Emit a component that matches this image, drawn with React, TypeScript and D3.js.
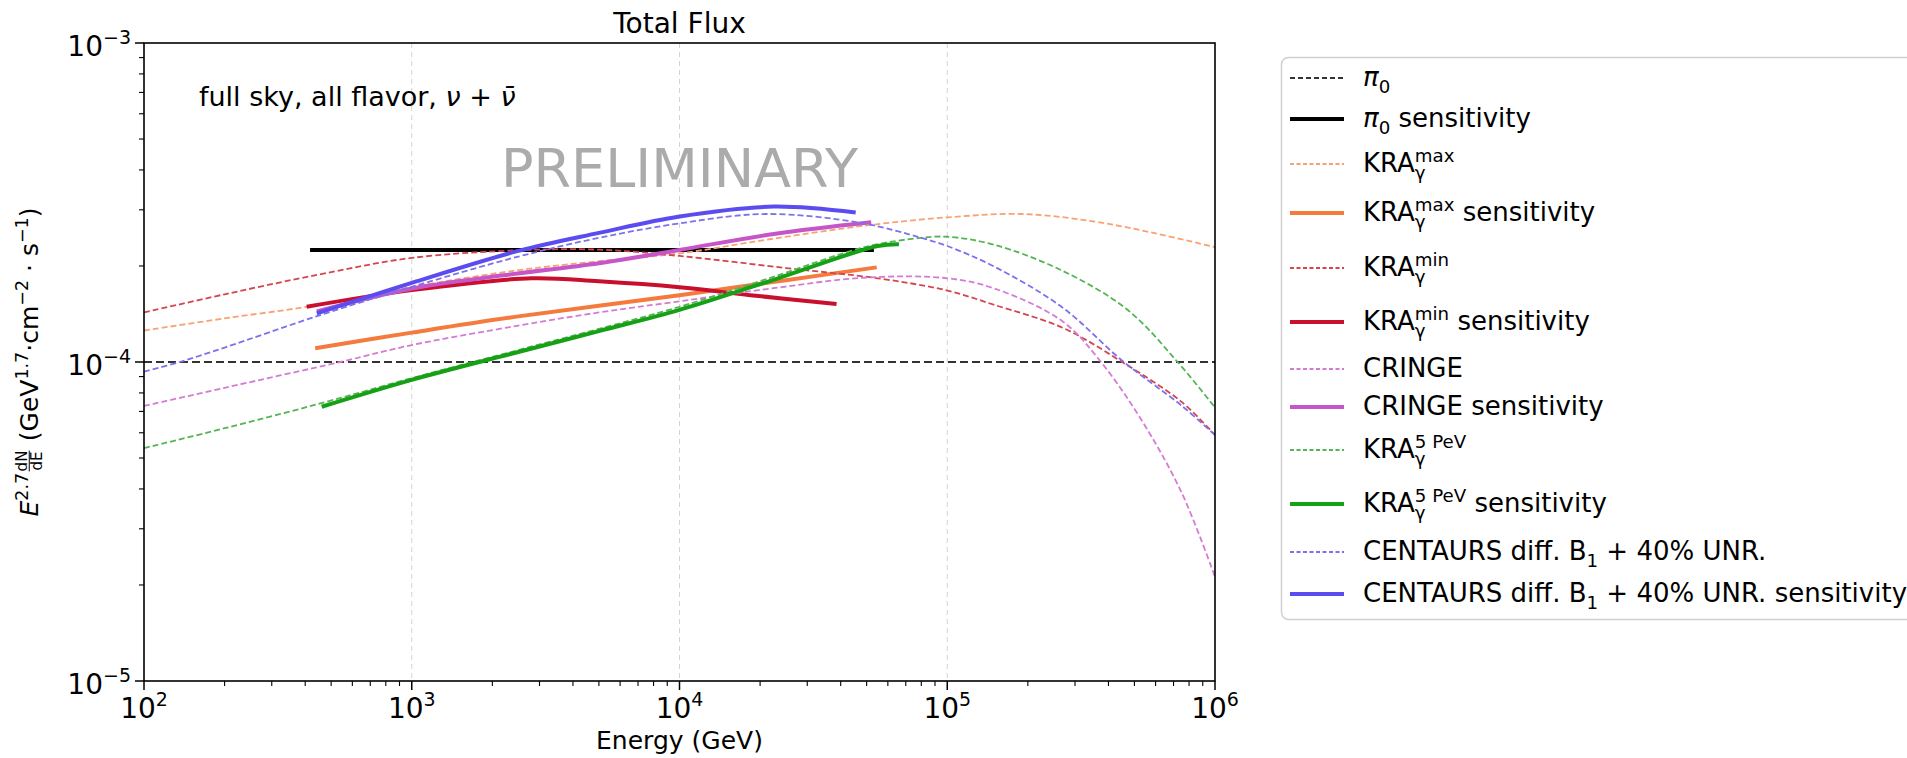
import * as d3 from "d3";
import { useEffect } from "react";

// ---- data ----
const pionEnergy = [1e2, 1e6];
const pionFlux = [1e-4, 1e-4];
const pionSensEnergy = [417, 53200];
const pionSensFlux = [2.245e-4, 2.245e-4];

const kraMaxEnergy = [1e2, 2e2, 4.5e2, 1e3, 2.5e3, 5e3, 1e4, 2.2e4, 5e4, 1e5, 1.9e5, 3.5e5, 6e5, 1e6];
const kraMaxFlux = [1.255e-4, 1.37e-4, 1.51e-4, 1.72e-4, 1.94e-4, 2.07e-4, 2.19e-4, 2.43e-4, 2.68e-4, 2.84e-4, 2.91e-4, 2.76e-4, 2.53e-4, 2.29e-4];
const kraMaxSensEnergy = [436, 1e3, 2.5e3, 1e4, 2.5e4, 5.45e4];
const kraMaxSensFlux = [1.104e-4, 1.236e-4, 1.39e-4, 1.62e-4, 1.805e-4, 1.98e-4];

const kraMinEnergy = [1e2, 2e2, 4.5e2, 1e3, 2.5e3, 5e3, 1e4, 2.5e4, 5.5e4, 1e5, 1.5e5, 2.7e5, 4.5e5, 7.5e5, 1e6];
const kraMinFlux = [1.43e-4, 1.63e-4, 1.88e-4, 2.12e-4, 2.24e-4, 2.25e-4, 2.15e-4, 1.97e-4, 1.83e-4, 1.675e-4, 1.51e-4, 1.28e-4, 1.0e-4, 7.5e-5, 5.9e-5];
const kraMinSensEnergy = [405, 1e3, 2.8e3, 5e3, 1e4, 1.84e4, 3.86e4];
const kraMinSensFlux = [1.49e-4, 1.68e-4, 1.83e-4, 1.79e-4, 1.715e-4, 1.62e-4, 1.52e-4];

const cringeEnergy = [1e2, 2e2, 5.4e2, 1e3, 2.5e3, 5e3, 1e4, 2.2e4, 5e4, 1e5, 1.5e5, 2.7e5, 3.75e5, 5.3e5, 7.5e5, 1e6];
const cringeFlux = [7.28e-5, 8.3e-5, 1.0e-4, 1.13e-4, 1.3e-4, 1.43e-4, 1.55e-4, 1.7e-4, 1.84e-4, 1.83e-4, 1.7e-4, 1.34e-4, 1.0e-4, 6.6e-5, 3.9e-5, 2.12e-5];
const cringeSensEnergy = [442, 1e3, 2.2e3, 5e3, 1e4, 2.25e4, 5.2e4];
const cringeSensFlux = [1.44e-4, 1.7e-4, 1.87e-4, 2.04e-4, 2.245e-4, 2.52e-4, 2.74e-4];

const kra5Energy = [1e2, 2e2, 4.6e2, 1e3, 2.5e3, 5e3, 1e4, 2.2e4, 5e4, 8e4, 1e5, 1.5e5, 2.7e5, 4.7e5, 7.25e5, 1e6];
const kra5Flux = [5.37e-5, 6.2e-5, 7.43e-5, 8.9e-5, 1.09e-4, 1.27e-4, 1.49e-4, 1.84e-4, 2.3e-4, 2.45e-4, 2.47e-4, 2.33e-4, 1.93e-4, 1.46e-4, 1.0e-4, 7.2e-5];
const kra5SensEnergy = [461, 1e3, 2.5e3, 5e3, 1e4, 2.2e4, 5.5e4, 6.6e4];
const kra5SensFlux = [7.24e-5, 8.79e-5, 1.075e-4, 1.25e-4, 1.457e-4, 1.8e-4, 2.31e-4, 2.34e-4];

const centaursEnergy = [1e2, 1.36e2, 2e2, 4.4e2, 1e3, 2.5e3, 5e3, 1e4, 2.1e4, 4.75e4, 8e4, 1e5, 1.5e5, 2.7e5, 4.5e5, 7.5e5, 1e6];
const centaursFlux = [9.33e-5, 1e-4, 1.11e-4, 1.39e-4, 1.72e-4, 2.14e-4, 2.45e-4, 2.72e-4, 2.91e-4, 2.73e-4, 2.45e-4, 2.31e-4, 1.99e-4, 1.48e-4, 1.01e-4, 7.3e-5, 5.9e-5];
const centaursSensEnergy = [442, 1e3, 2.5e3, 5e3, 1e4, 2.25e4, 4.55e4];
const centaursSensFlux = [1.42e-4, 1.77e-4, 2.23e-4, 2.54e-4, 2.86e-4, 3.07e-4, 2.94e-4];

const xDomain = [1e2, 1e6];
const yDomain = [1e-5, 1e-3];

// ---- layout ----
const W = 1907;
const H = 758;
const plot = { left: 144, right: 1215, top: 43, bottom: 681 };
const FONT = '"DejaVu Sans", sans-serif';

type Seg = { t?: string; it?: boolean; sub?: string; sup?: string; num?: string; den?: string };

const ctx = typeof document !== "undefined" ? document.createElement("canvas").getContext("2d") : null;
const measure = (t: string, size: number, italic = false) => {
  if (!ctx) return t.length * size * 0.6;
  ctx.font = `${italic ? "italic " : ""}${size}px "DejaVu Sans"`;
  return ctx.measureText(t).width;
};

const FRAC = 0.6;

const segWidth = (s: Seg, size: number) => {
  const small = size * 0.7;
  if (s.t !== undefined) return measure(s.t, size, s.it);
  if (s.num !== undefined) return Math.max(measure(s.num, size * FRAC), measure(s.den || "", size * FRAC)) + 3;
  return Math.max(s.sub ? measure(s.sub, small) : 0, s.sup ? measure(s.sup, small) : 0);
};

const MathText = ({ x, y, size, segs, anchor = "start", fill = "#000" }: any) => {
  const widths = segs.map((s: Seg) => segWidth(s, size));
  const total = d3.sum(widths);
  let cx = anchor === "middle" ? x - total / 2 : anchor === "end" ? x - total : x;
  const out: any[] = [];
  segs.forEach((s: Seg, i: number) => {
    const w = widths[i];
    const small = size * 0.7;
    if (s.t !== undefined) {
      out.push(
        <text key={i} x={cx} y={y} fontSize={size} fontStyle={s.it ? "italic" : "normal"} fill={fill} style={{ whiteSpace: "pre" }}>
          {s.t}
        </text>
      );
    } else if (s.num !== undefined) {
      const fs = size * FRAC;
      out.push(
        <g key={i}>
          <text x={cx + w / 2} y={y - size * 0.43} fontSize={fs} textAnchor="middle" fill={fill}>{s.num}</text>
          <line x1={cx + 1.5} x2={cx + w - 1.5} y1={y - size * 0.35} y2={y - size * 0.35} stroke={fill} strokeWidth={1} />
          <text x={cx + w / 2} y={y + size * 0.14} fontSize={fs} textAnchor="middle" fill={fill}>{s.den}</text>
        </g>
      );
    } else {
      if (s.sub)
        out.push(
          <text key={i + "b"} x={cx} y={y + size * 0.26} fontSize={small} fill={fill}>{s.sub}</text>
        );
      if (s.sup)
        out.push(
          <text key={i + "p"} x={cx} y={y - size * 0.4} fontSize={small} fill={fill} style={{ whiteSpace: "pre" }}>{s.sup}</text>
        );
    }
    cx += w;
  });
  return <g fontFamily={FONT}>{out}</g>;
};

const series = [
  { label: [{ t: "π", it: true }, { sub: "0" }], e: pionEnergy, f: pionFlux, color: "#333333", dashed: true, width: 2.2, dash: "8,4" },
  { label: [{ t: "π", it: true }, { sub: "0" }, { t: " sensitivity" }], e: pionSensEnergy, f: pionSensFlux, color: "#000000", width: 4 },
  { label: [{ t: "KRA" }, { sub: "γ", sup: "max" }], e: kraMaxEnergy, f: kraMaxFlux, color: "#f8a274", dashed: true },
  { label: [{ t: "KRA" }, { sub: "γ", sup: "max" }, { t: " sensitivity" }], e: kraMaxSensEnergy, f: kraMaxSensFlux, color: "#f47a3e", width: 4 },
  { label: [{ t: "KRA" }, { sub: "γ", sup: "min" }], e: kraMinEnergy, f: kraMinFlux, color: "#d4454f", dashed: true },
  { label: [{ t: "KRA" }, { sub: "γ", sup: "min" }, { t: " sensitivity" }], e: kraMinSensEnergy, f: kraMinSensFlux, color: "#c8102e", width: 4 },
  { label: [{ t: "CRINGE" }], e: cringeEnergy, f: cringeFlux, color: "#d47cd4", dashed: true },
  { label: [{ t: "CRINGE sensitivity" }], e: cringeSensEnergy, f: cringeSensFlux, color: "#c655c8", width: 4 },
  { label: [{ t: "KRA" }, { sub: "γ", sup: "5 PeV" }], e: kra5Energy, f: kra5Flux, color: "#55b455", dashed: true },
  { label: [{ t: "KRA" }, { sub: "γ", sup: "5 PeV" }, { t: " sensitivity" }], e: kra5SensEnergy, f: kra5SensFlux, color: "#16a016", width: 4 },
  { label: [{ t: "CENTAURS diff. B" }, { sub: "1" }, { t: " + 40% UNR." }], e: centaursEnergy, f: centaursFlux, color: "#7b72ec", dashed: true },
  { label: [{ t: "CENTAURS diff. B" }, { sub: "1" }, { t: " + 40% UNR. sensitivity" }], e: centaursSensEnergy, f: centaursSensFlux, color: "#5a4cf0", width: 4 },
];

const legendRowY = [78, 119, 164, 213, 268, 322, 369, 407, 450, 504, 552, 594];

const App = () => {
  useEffect(() => {
    document.body.style.margin = "0";
  }, []);

  const x = d3.scaleLog().domain(xDomain).range([plot.left, plot.right]);
  const y = d3.scaleLog().domain(yDomain).range([plot.bottom, plot.top]);
  const line = d3
    .line<[number, number]>()
    .x((d) => x(d[0]))
    .y((d) => y(d[1]))
    .curve(d3.curveCatmullRom.alpha(0.5));

  const isMajor = (v: number) => Math.abs(Math.log10(v) - Math.round(Math.log10(v))) < 1e-9;
  const xTicks = x.ticks();
  const yTicks = y.ticks();
  const xMajor = xTicks.filter(isMajor);
  const yMajor = yTicks.filter(isMajor);
  const exp = (v: number) => String(Math.round(Math.log10(v))).replace("-", "−");
  const cx = (plot.left + plot.right) / 2;

  return (
    <svg width={W} height={H} style={{ position: "absolute", left: 0, top: 0, background: "#fff" }} fontFamily={FONT}>
      <defs>
        <clipPath id="plotclip">
          <rect x={plot.left} y={plot.top} width={plot.right - plot.left} height={plot.bottom - plot.top} />
        </clipPath>
      </defs>
      <rect x={0} y={0} width={W} height={H} fill="#fff" />

      {/* grid */}
      {xMajor
        .filter((v) => v > xDomain[0] && v < xDomain[1])
        .map((v) => (
          <line key={v} x1={x(v)} x2={x(v)} y1={plot.top} y2={plot.bottom} stroke="#d4d4d4" strokeWidth={1} strokeDasharray="5,4" />
        ))}

      {/* text inside plot */}
      <text x={cx} y={187} fontSize={54} textAnchor="middle" fill="#ababab">PRELIMINARY</text>
      <text x={199} y={106} fontSize={27} style={{ whiteSpace: "pre" }}>
        <tspan>full sky, all flavor, </tspan>
        <tspan fontStyle="italic">ν</tspan>
        <tspan> + </tspan>
        <tspan fontStyle="italic">ν̄</tspan>
      </text>

      {/* curves */}
      <g clipPath="url(#plotclip)" fill="none">
        {series.map((s, i) => (
          <path
            key={i}
            d={line(s.e.map((e, j) => [e, s.f[j]] as [number, number])) || ""}
            stroke={s.color}
            strokeWidth={s.width || 1.8}
            strokeDasharray={s.dashed ? s.dash || "6,3" : undefined}
          />
        ))}
      </g>

      {/* axes frame */}
      <rect x={plot.left} y={plot.top} width={plot.right - plot.left} height={plot.bottom - plot.top} fill="none" stroke="#000" strokeWidth={1.6} />

      {/* x ticks */}
      {xTicks.map((v) => (
        <line key={"xt" + v} x1={x(v)} x2={x(v)} y1={plot.bottom} y2={plot.bottom + (isMajor(v) ? 9 : 5)} stroke="#000" strokeWidth={isMajor(v) ? 1.5 : 1.1} />
      ))}
      {xMajor.map((v) => (
        <text key={"xl" + v} x={x(v)} y={718} fontSize={28} textAnchor="middle">
          10<tspan dy={-12} fontSize={19}>{exp(v)}</tspan>
        </text>
      ))}

      {/* y ticks */}
      {yTicks.map((v) => (
        <line key={"yt" + v} x1={plot.left - (isMajor(v) ? 9 : 5)} x2={plot.left} y1={y(v)} y2={y(v)} stroke="#000" strokeWidth={isMajor(v) ? 1.5 : 1.1} />
      ))}
      {yMajor.map((v) => (
        <text key={"yl" + v} x={131} y={y(v) + 13} fontSize={28} textAnchor="end">
          10<tspan dy={-12} fontSize={19}>{exp(v)}</tspan>
        </text>
      ))}

      {/* titles */}
      <text x={cx} y={33} fontSize={28} textAnchor="middle">Total Flux</text>
      <text x={cx} y={749} fontSize={25} textAnchor="middle">Energy (GeV)</text>
      <g transform="translate(38,362) rotate(-90)">
        <MathText
          x={0}
          y={0}
          size={25}
          anchor="middle"
          segs={[
            { t: "E", it: true },
            { sup: "2.7" },
            { num: "dN", den: "dE" },
            { t: " (GeV" },
            { sup: "1.7" },
            { t: "·cm" },
            { sup: "−2" },
            { t: " · s" },
            { sup: "−1" },
            { t: ")" },
          ]}
        />
      </g>

      {/* legend */}
      <rect x={1281.5} y={57.5} width={700} height={562} rx={7} fill="#fff" stroke="#d0d0d0" strokeWidth={1.5} />
      {series.map((s, i) => (
        <g key={"lg" + i}>
          <line
            x1={1290}
            x2={1344}
            y1={legendRowY[i]}
            y2={legendRowY[i]}
            stroke={s.color}
            strokeWidth={s.width || 1.8}
            strokeDasharray={s.dashed ? (s.dash ? "5,3" : "4,2.5") : undefined}
          />
          <MathText x={1363} y={legendRowY[i] + 8} size={26} segs={s.label} />
        </g>
      ))}
    </svg>
  );
};

export default App;
